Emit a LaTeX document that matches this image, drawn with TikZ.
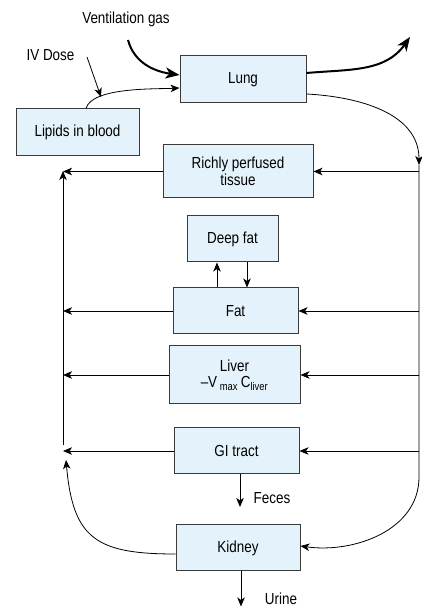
\documentclass[tikz,border=0pt]{standalone}
\usepackage{fontspec}
\setmainfont{Liberation Sans}[FakeStretch=0.84]
\usepackage{tikz}
\usetikzlibrary{positioning,arrows.meta}
\definecolor{organfill}{HTML}{E4F3FB}
\definecolor{organline}{HTML}{3A3A3A}

\begin{document}
\begin{tikzpicture}[
        x=1pt, y=1pt, line width=0.8pt,
        >={Stealth[length=9pt,width=7.5pt,inset=2.5pt]},
        every node/.style={font=\fontsize{16}{16.5}\selectfont},
        organ/.style={draw=organline, line width=1pt, fill=organfill, inner sep=0pt, align=center},
        lbl/.style={inner sep=0pt},
        gas/.style={line width=2pt, -{Stealth[length=14pt,width=11pt,inset=4pt]}}
    ]
        \useasboundingbox (0,0) rectangle (422,607);

        % compartments
        \node[organ, minimum width=126pt, minimum height=47pt] (lung) at (243,527.5) {Lung};
        \node[organ, minimum width=123pt, minimum height=47pt] (lipids) at (77.5,474.5) {Lipids in blood};
        \node[organ, minimum width=150pt, minimum height=53pt] (rich) at (238,435.5) {Richly perfused\\tissue};
        \node[organ, minimum width=125pt, minimum height=46pt] (fat) at (235.5,296) {Fat};
        \node[organ, minimum width=91pt, minimum height=46pt, above=25pt of fat, xshift=-3pt] (deepfat) {Deep fat};
        \node[organ, minimum width=131pt, minimum height=58pt] (liver) at (234.5,232) {Liver\\{\textendash}V\,\textsubscript{max}\,C\textsubscript{liver}};
        \node[organ, minimum width=125pt, minimum height=46pt] (gi) at (236.5,156) {GI tract};
        \node[organ, minimum width=124pt, minimum height=46pt, below=50pt of gi, xshift=1.5pt] (kidney) {Kidney};

        % labels
        \node[lbl] (vent) at (126,588) {Ventilation gas};
        \node[lbl] (iv) at (50.5,552) {IV Dose};
        \node[lbl] (feces) at (272,109) {Feces};
        \node[lbl] (urine) at (281,8) {Urine};

        \coordinate (ventin) at (128,567);
        \coordinate (ventout) at (410,570);
        \coordinate (ivstart) at (87,550);
        \coordinate (ivtip) at (101,510);
        \coordinate (rtop) at (419,442);
        \coordinate (rbot) at (419,130);
        \coordinate (ltop) at (63,436);
        \coordinate (lbot) at (63,162);
        \coordinate (kin) at (66,147);
        \coordinate (fecesend) at (240,100);
        \coordinate (urineend) at (241,0.5);

        % gas exchange
        \draw[gas] (ventin) to[out=-75,in=172] ([yshift=4.5pt]lung.west);
        \draw[gas] ([yshift=6.5pt]lung.east) to[out=5,in=-125] (ventout);

        % dose and venous return to lung
        \draw[->] ([xshift=8.5pt]lipids.north) to[out=75,in=183,looseness=0.6] ([yshift=-8.5pt]lung.west);
        \draw[->] (ivstart) to (ivtip);

        % arterial side
        \draw[->] ([yshift=-14.5pt]lung.east) to[out=-3,in=90] (rtop);
        \draw[->] (rtop) -- (rbot) to[out=-90,in=-8] ([yshift=2pt]kidney.east);

        % venous side
        \draw[->] (lbot) to (ltop);
        \draw[->] ([yshift=-6pt]kidney.west) to[out=180,in=-85,looseness=1.4] (kin);

        \foreach \tis in {rich,fat,liver,gi} {
            \draw[->] (rtop |- \tis.east) to (\tis.east);
            \draw[->] (\tis.west) to (ltop |- \tis.west);
        }

        \draw[->] ([xshift=-15.5pt]deepfat.south |- fat.north) to ([xshift=-15.5pt]deepfat.south);
        \draw[->] ([xshift=14.5pt]deepfat.south) to ([xshift=14.5pt]deepfat.south |- fat.north);

        % elimination
        \draw[->] ([xshift=3.5pt]gi.south) to (fecesend);
        \draw[->] ([xshift=3pt]kidney.south) to (urineend);
    \end{tikzpicture}
\end{document}
